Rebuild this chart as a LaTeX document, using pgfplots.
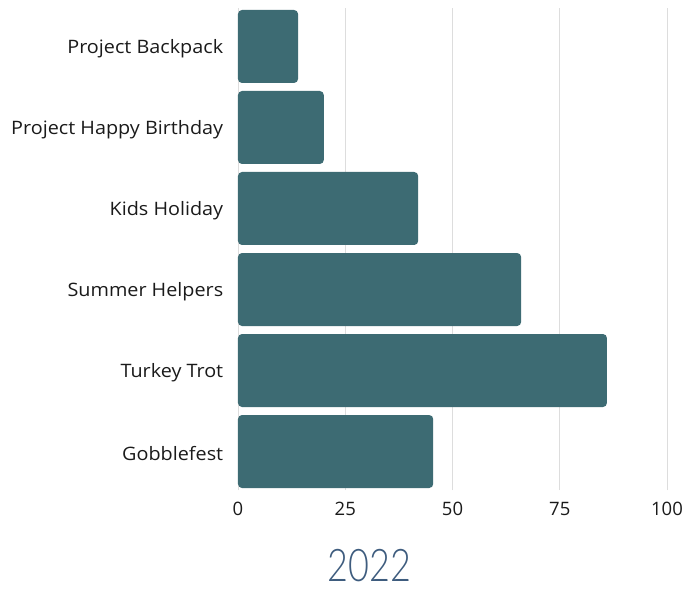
\documentclass[border=0pt]{standalone}
\usepackage{fontspec}
\setmainfont{Open Sans}
\newfontfamily\titlefont{Lato Light}
\usepackage{pgfplots}
\pgfplotsset{compat=1.18}
\definecolor{barteal}{HTML}{3D6B73}
\definecolor{gridgray}{HTML}{DDDDDD}
\definecolor{titleblue}{HTML}{3E5C7E}
\definecolor{labelgray}{HTML}{1A1A1A}
\begin{document}
\begin{tikzpicture}
  \useasboundingbox (-238pt,-100pt) rectangle (448pt,490pt);
  \begin{axis}[
    scale only axis,
    width=429pt,
    height=482pt,
    xbar,
    bar width=73pt,
    xmin=0, xmax=100,
    ymin=-0.475, ymax=5.475,
    xtick={0,25,50,75,100},
    ytick={0,1,2,3,4,5},
    yticklabels={Gobblefest, Turkey Trot, Summer Helpers, Kids Holiday, Project Happy Birthday, Project Backpack},
    xmajorgrids=true,
    grid style={line width=0.8pt, draw=gridgray},
    axis line style={draw=none},
    major tick length=0pt,
    tick label style={font=\fontsize{18.5}{22}\selectfont, text=labelgray},
    xticklabel style={yshift=-9pt},
    yticklabel style={xshift=-11pt, yshift=-2pt, xscale=1.07},
    /pgf/number format/assume math mode=true,
    clip=false,
  ]
  \draw[gridgray, line width=0.8pt] (axis cs:0,-0.475) -- (axis cs:0,5.475);
  \addplot[fill=barteal, draw=none, rounded corners=4pt] coordinates {
    (45.5,0) (86,1) (66,2) (42,3) (20,4) (14,5)
  };
  \node[font=\titlefont\fontsize{45}{50}\selectfont, text=titleblue, anchor=center, xscale=0.8, inner sep=0pt] at (axis cs:30.6,-0.475) [yshift=-76pt] {2022};
  \end{axis}
\end{tikzpicture}
\end{document}
